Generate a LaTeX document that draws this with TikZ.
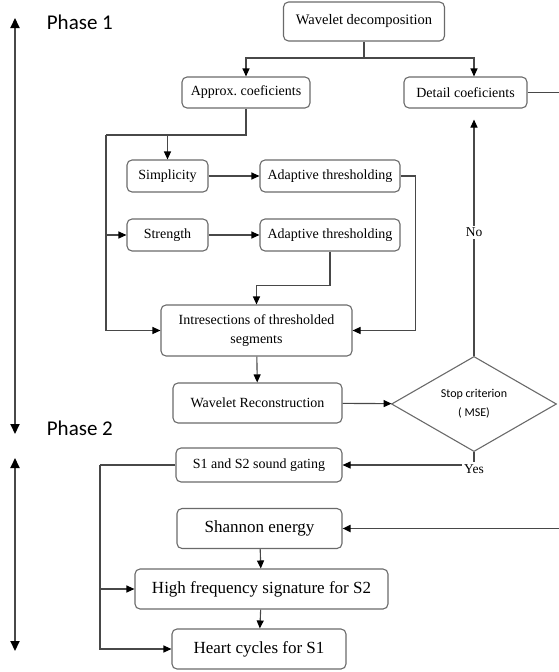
\documentclass[tikz,border=0pt]{standalone}
\usepackage{fontspec}
\setmainfont{Liberation Serif}
\newfontfamily\calib{Carlito}
\usetikzlibrary{calc}
\usetikzlibrary{arrows.meta}
\usetikzlibrary{shapes}
\definecolor{linegray}{HTML}{484848}
\definecolor{boxgray}{HTML}{6a6a6a}
\tikzset{
	every path/.style={line width=1.1pt},
	align=center,
	box/.style={
		draw=boxgray,
		rectangle,
		rounded corners=5pt,
		inner sep=0pt,
		font=\fontsize{14}{19}\selectfont,
	},
	bigbox/.style={
		box,
		font=\fontsize{17}{20}\selectfont,
	},
	crit/.style={
		draw=boxgray,
		diamond,
		inner sep=0pt,
		font=\calib\fontsize{12}{19}\selectfont,
	},
	link/.style={
		draw=linegray,
	},
	arr/.style={
		draw=linegray,
		-{Triangle[length=8pt,width=7pt,color=black]}
	},
	phase/.style={
		draw=linegray,
		line width=2pt,
		{Triangle[length=10pt,width=9pt,color=black]}-{Triangle[length=10pt,width=9pt,color=black]}
	},
	phasetext/.style={
		anchor=west,
		font=\calib\fontsize{21}{24}\selectfont,
	},
	tag/.style={
		fill=white,
		inner sep=2pt,
		font=\fontsize{13.5}{15}\selectfont,
	},
}

\begin{document}
\begin{tikzpicture}[x=1pt,y=-1pt]
		\useasboundingbox (0,0) rectangle (559,672);

		\coordinate (p1a) at (15,18);
		\coordinate (p1b) at (15,434);
		\coordinate (p2a) at (15,458);
		\coordinate (p2b) at (15,651);
		\draw[phase] 				(p1a) -- (p1b);
		\draw[phase] 				(p2a) -- (p2b);
		\node[phasetext] 		(ph1) at (43,22) {Phase 1};
		\node[phasetext] 		(ph2) at (43,428) {Phase 2};

%*********

		\node[box, minimum width=161, minimum height=39, font=\fontsize{14.5}{17}\selectfont] 	(wdec) at (364,21.5) {Wavelet decomposition};
		\node[box, minimum width=128, minimum height=31] 	(approx) at (246,92.5) {Approx.\ coeficients};
		\node[box, minimum width=123, minimum height=31] 	(detail) at (465.5,92.5) {Detail coeficients};

		\node[box, minimum width=81, minimum height=32] 	(simp) at (167.5,176) {Simplicity};
		\node[box, minimum width=140, minimum height=32] 	(adapt1) at (330,176) {Adaptive thresholding};
		\node[box, minimum width=81, minimum height=32] 	(strength) at (167.5,235) {Strength};
		\node[box, minimum width=140, minimum height=32] 	(adapt2) at (330,235) {Adaptive thresholding};

		\node[box, minimum width=191, minimum height=51] 	(inter) at (256.5,330.5) {Intresections of thresholded\\segments};
		\node[box, minimum width=169, minimum height=40] 	(recon) at (257.5,403) {Wavelet Reconstruction};
		\node[crit, minimum width=165, minimum height=89] 	(stop) at (474,404) {Stop criterion\\( MSE)};

		\coordinate (split) at (364,58);
		\coordinate (lane) at (106,135);

		\draw[link] 				(wdec.south) -- (split);
		\draw[arr] 					(split) -| (approx.north);
		\draw[arr] 					(split) -| (stop.north |- detail.north);
		\draw[link] 				(approx.south) |- (lane);
		\draw[arr] 					(lane -| simp.north) -- (simp.north);
		\draw[arr] 					(lane) |- (inter.west);
		\draw[arr] 					(lane |- strength.west) -- (strength.west);
		\draw[arr] 					(simp) -- (adapt1);
		\draw[arr] 					(strength) -- (adapt2);
		\draw[arr] 					(adapt1.east) -- ++(15,0) |- (inter.east);
		\draw[arr] 					(adapt2.south) -- ++(0,34) -| (inter.north);
		\draw[arr] 					(inter) -- (recon);
		\draw[arr] 					(recon) -- (stop);
		\draw[arr, shorten >=11pt] 	(stop.north) -- node[tag] {No} (stop.north |- detail.south);

%*********

		\node[box, minimum width=166, minimum height=34] 	(gating) at (259,465) {S1 and S2 sound gating};
		\node[bigbox, minimum width=165, minimum height=40] 	(shannon) at (259.5,528.5) {Shannon energy};
		\node[bigbox, minimum width=253, minimum height=40] 	(hf) at (261.5,589) {High frequency signature for S2};
		\node[bigbox, minimum width=174, minimum height=40] 	(heart) at (259,649) {Heart cycles for S1};

		\node[tag] 					(yes) at (474,469) {Yes};
		\coordinate (back) at (100,465);
		\coordinate (rim) at (559,0);

		\draw[link] 				(stop.south) -- (yes.north);
		\draw[arr] 					(yes.west |- gating) -- (gating);
		\draw[link] 				(gating.west) -- (back);
		\draw[arr] 					(back |- hf.west) -- (hf.west);
		\draw[arr] 					(back) |- (heart.west);
		\draw[link] 				(detail.east) -- (detail.east -| rim);
		\draw[arr, line width=1.8pt] 	(shannon.east -| rim) -- (shannon.east);
		\draw[arr] 					(shannon) -- (hf);
		\draw[arr] 					(hf) -- (heart);

	\end{tikzpicture}
\end{document}
